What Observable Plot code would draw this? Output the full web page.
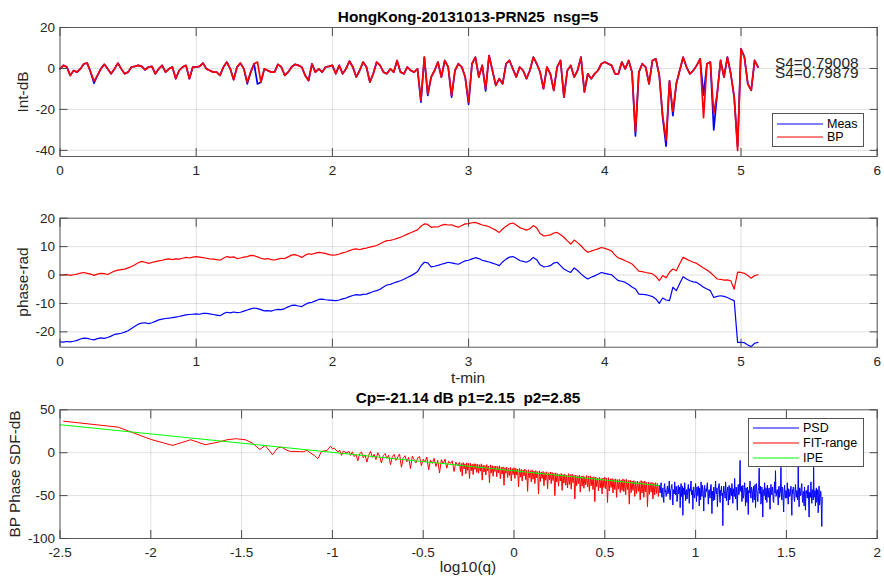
<!DOCTYPE html>
<html>
<head>
<meta charset="utf-8">
<script src="https://cdn.jsdelivr.net/npm/d3@7"></script>
<script src="https://cdn.jsdelivr.net/npm/@observablehq/plot@0.6"></script>
<style>
  body { margin: 0; background: #fff; }
  #fig { position: relative; width: 884px; height: 582px; overflow: hidden;
         font-family: "Liberation Sans", Arial, Helvetica, sans-serif; color: #262626; background: #fff; }
  .t { position: absolute; white-space: pre; line-height: 1; }
  .ttl { font-weight: bold; font-size: 15.4px; color: #000; transform: translateX(-50%); }
  .lab { font-size: 15.4px; transform: translateX(-50%); }
  .ylab { font-size: 15.4px; transform: translate(-50%, -50%) rotate(-90deg); }
  .leg { position: absolute; border: 1px solid #555; background: #fff; box-sizing: border-box; }
  .legtxt { position: absolute; font-size: 12.5px; line-height: 1; white-space: pre; color: #000; }
</style>
</head>
<body>
<div id="fig"></div>
<script>
// ---------------- DATA ----------------
const figTitle = "HongKong-20131013-PRN25  nsg=5";
const sdfTitle = "Cp=-21.14 dB p1=2.15  p2=2.85";
const xLabelTime = "t-min";
const xLabelSdf = "log10(q)";
const yLabelInt = "Int-dB";
const yLabelPhase = "phase-rad";
const yLabelSdf = "BP Phase SDF-dB";
const s4Labels = ["S4=0.79008", "S4=0.79879"];
const legendInt = ["Meas", "BP"];
const legendSdf = ["PSD", "FIT-range", "IPE"];

const timeTicks = [0, 1, 2, 3, 4, 5, 6];
const intTicks = [-40, -20, 0, 20];
const phaseTicks = [-20, -10, 0, 10, 20];
const sdfXTicks = [-2.5, -2, -1.5, -1, -0.5, 0, 0.5, 1, 1.5, 2];
const sdfYTicks = [-100, -50, 0, 50];

// Intensity (dB), sampled every 0.025 min from t = 0
const intDt = 0.025;
const intBP = [
  -0.2,1.5,0.7,-3.4,-1,-1.8,-0.2,2.3,2.6,-1.8,
  -6.2,-3.4,-0.2,2,-0.2,-2.6,-0.2,2.6,-0.2,-2.6,
  -1.8,0.7,1,1.5,1,-0.7,0.7,1,-2.6,-0.2,
  1.5,-1.8,-0.2,0.7,-5,-1,0.7,1.5,-5,0.7,
  0.7,1,2.6,-0.2,-1,-1.8,-1.8,-3.4,0.7,3.1,
  -0.2,-5.5,0.7,2.6,-0.2,-6.7,-1.8,2.3,3.1,-6.7,
  -0.2,-1,-1.8,-1.8,2,0.7,-3.4,-1.8,0.7,2,
  1.5,0.7,-3.4,-5.9,2.3,-1.8,-0.2,-1.8,0.7,1,
  1.5,
  -2.6,1.5,-2.6,-0.2,3.6,0.7,-4.2,-1,3.1,0.7,
  -6.7,-2.6,3.1,1.5,-1.8,-2.6,-0.2,-1.8,3.9,-1.8,
  -2.6,0.7,-1,-1.8,-0.2,-15.6,5.5,-12.4,-4.2,-1,
  3.1,-4.2,3.9,0.7,-13.2,-1,2.3,0.7,-4.2,-16.4,
  2.3,5.5,-4.2,1.5,-9.9,6.3,-1,-8.3,-5,-7.5,
  2.3,3.9,-0.2,-4.2,0.7,-1,-5,-1,5.5,2.3,
  -1.8,-9.9,0.7,-2.6,-10.7,0.7,3.9,-14,-1,1.5,
  -4.2,-1,5.5,-11.5,-2.6,-5,-2.6,-1,2.3,3.1,
  2.3,1.5,-2.6,-2.6,3.1,-0.2,3.9,-1.8,-31,-1.8,
  2.3,0.7,-7.5,3.9,4.7,-3.4,-23,-35,-6,-21,
  -7.5,-1,5.5,0.7,-2.6,-1,1.5,4.7,-24,2.3,
  3.1,-22,-12.4,3.9,-4.2,5.5,-2.6,-14,-40,9.6,
  5.5,-7.5,-10.7,3.9,0.7
];
// Where the measured intensity differs visibly from BP: [t-min, dB]
const intMeasDiff = [
  [0.25,-7.2],[1.375,-7.5],[1.45,-7.6],[2.65,-16.5],[2.7,-13.2],[2.875,-14],
  [3.0,-17.5],[3.125,-11],[4.225,-33],[4.425,-24],[4.45,-38],[4.5,-23],
  [4.725,-13],[4.8,-30],[4.975,-38]
];

// Phase (rad), sampled every 0.025 min from t = 0
const phaseDt = 0.025;
const phaseBP = [
  0.1,0.0,0.2,-0.1,0.1,0.3,0.7,0.9,0.6,0.3,
  -0.1,0.3,0.6,0.5,0.2,0.8,1.4,1.7,1.9,2.1,
  2.5,3.0,3.6,4.3,4.8,4.5,4.1,4.4,4.7,5.0,
  5.2,5.5,5.7,5.4,5.7,5.6,5.9,6.2,6.0,6.3,
  6.5,6.3,6.1,5.9,5.7,5.6,5.4,5.2,5.9,6.5,
  6.2,6.4,5.8,6.0,6.3,6.5,6.9,6.8,6.4,5.9,
  5.6,5.8,5.4,5.3,5.6,5.9,5.8,6.4,7.0,7.2,
  6.8,6.2,7.0,7.5,7.3,7.7,8.0,7.8,7.6,7.2,
  7.0,7.1,7.4,7.8,8.1,8.6,9.0,9.2,8.9,9.3,
  9.5,9.8,10.1,10.4,11.0,11.6,12.1,12.2,12.5,12.9,
  13.3,13.8,14.4,14.9,15.4,15.9,17.2,18.0,17.8,16.8,
  17.0,16.9,17.5,17.8,17.6,17.7,17.2,16.8,17.4,18.0,
  18.1,18.4,18.5,18.1,17.6,17.4,17.0,16.4,15.8,15.0,
  16.2,17.2,18.0,18.3,17.6,16.7,16.3,15.8,16.3,17.4,
  16.6,14.6,13.8,13.9,14.1,14.8,15.0,14.2,13.3,12.0,
  10.9,12.3,11.4,10.3,9.0,8.0,8.4,8.8,9.2,9.7,
  9.4,9.0,8.4,7.0,6.0,5.6,5.0,4.5,3.9,2.6,
  1.4,1.2,0.9,0.7,0.4,-0.5,-2.0,-0.2,-1.0,1.0,
  2.1,1.5,4.0,6.2,5.6,5.0,4.5,4.1,3.3,2.5,
  1.8,0.9,-0.2,-1.4,-1.5,-1.8,-1.7,-2.0,-5.0,1.0,
  0.9,0.6,-0.2,-1.1,-0.2,0.1
];
const phaseMeas = [
  -23.5,-23.6,-23.4,-23.5,-23.3,-23.0,-22.5,-22.2,-22.3,-22.6,
  -22.8,-22.4,-22.1,-22.3,-22.0,-21.5,-20.9,-20.7,-20.5,-20.1,
  -19.6,-18.8,-18.0,-17.3,-16.9,-16.8,-17.1,-16.8,-16.3,-15.8,
  -15.5,-15.3,-15.2,-15.0,-14.8,-14.6,-14.3,-14.0,-13.9,-13.8,
  -13.7,-13.8,-13.5,-13.5,-13.7,-13.9,-14.1,-14.3,-13.6,-13.1,
  -13.3,-13.0,-13.2,-13.1,-12.7,-12.3,-11.9,-11.6,-11.8,-12.2,
  -12.6,-12.5,-12.7,-12.3,-12.1,-12.2,-11.8,-11.2,-10.7,-10.6,
  -10.9,-11.1,-10.4,-9.8,-9.6,-9.1,-8.6,-8.5,-8.7,-8.8,
  -8.9,-9.0,-8.8,-8.4,-8.1,-7.6,-7.2,-6.9,-7.1,-6.8,
  -6.7,-6.3,-5.8,-5.5,-5.0,-4.2,-3.5,-3.3,-2.8,-2.4,
  -2.0,-1.5,-0.9,-0.3,0.4,1.2,3.2,4.5,4.3,2.9,
  3.1,3.4,3.8,4.1,4.5,4.3,4.0,3.8,4.4,5.0,
  5.2,5.7,6.1,5.8,5.2,4.9,4.6,4.2,3.8,3.3,
  4.6,5.6,6.3,6.5,5.9,5.1,4.8,4.5,5.1,6.2,
  5.4,3.6,2.9,3.0,3.3,4.2,4.5,3.3,2.1,1.4,
  0.9,2.5,1.6,0.4,-0.6,-1.4,-0.8,-0.3,0.3,0.9,
  0.6,0.3,0.1,-1.0,-2.0,-2.2,-2.6,-3.3,-4.2,-4.9,
  -6.7,-6.8,-6.9,-7.2,-7.6,-8.4,-10.0,-8.1,-8.8,-9.0,
  -4.3,-5.5,-3.0,-0.6,-1.4,-2.0,-2.4,-2.6,-3.4,-4.3,
  -4.9,-5.5,-7.9,-7.5,-7.3,-7.5,-7.9,-8.5,-9.0,-23.7,
  -23.7,-23.8,-24.6,-25.2,-24.0,-23.7
];

// SDF: low-q part of FIT-range (explicit log10(q), dB)
const fitLowX = [-2.48,-2.18,-2.0,-1.88,-1.78,-1.70,-1.63,-1.58,-1.53,-1.48,-1.44,-1.40,-1.37,-1.33,-1.30,-1.28,-1.25,-1.23,-1.20,-1.18,-1.16,-1.14,-1.12,-1.10,-1.08,-1.06,-1.05,-1.03,-1.01,-1.00,-0.99,-0.97,-0.96,-0.95,-0.94,-0.92,-0.91];
const fitLowY = [36.7,29.8,15.5,8.5,15.1,9.3,12.3,15.1,16.3,15.1,11.2,3.8,8.5,-2.3,5.8,6.5,2.7,1.5,1.5,1.2,1.2,2.7,-0.4,-3.1,-7,1.5,1.9,2.5,7.7,4.6,5.4,0.7,3,-3.1,1.9,-0.4,1.9];
// FIT-range, log10(q) from -0.90 in steps of 0.01 (to -0.31)
const fitMidX0 = -0.9, fitMidStep = 0.01;
const fitMidY = [
  -3.1,1.0,-4.5,-2.0,-9.5,-1.2,0.8,-6.0,-2.5,-11.0,
  -3.0,1.5,-5.5,-2.0,-8.0,0.0,-4.0,-12.0,-3.5,-1.0,
  -6.5,-3.0,-14.0,-4.5,-2.0,-9.0,-5.0,-1.5,-17.0,-6.5,
  -3.5,-10.5,-5.5,-18.5,-4.0,-8.0,-12.0,-6.0,-4.5,-15.0,
  -7.5,-11.0,-5.0,-20.0,-8.5,-12.5,-6.5,-16.0,-9.0,-23.5,
  -8.0,-13.0,-7.5,-18.0,-10.0,-12.5,-9.5,-22.0,-11.0,-15.5
];
// FIT-range, log10(q) from -0.30 in steps of 0.005 (to 0.80)
const fitHiX0 = -0.3, fitHiStep = 0.005;
const fitHiY = [
  -11.0,-22.0,-12.5,-27.0,-11.5,-19.0,-13.0,-24.5,-11.8,-20.5,-12.5,-30.0,-12.0,-21.0,-13.5,-25.5,-12.8,-19.5,-13.0,-23.0,
  -13.5,-24.0,-14.0,-21.5,-13.0,-32.0,-14.5,-22.5,-15.0,-26.0,-13.8,-21.0,-15.5,-35.0,-14.2,-23.5,-15.0,-27.5,-15.8,-22.0,
  -15.5,-28.0,-16.0,-23.5,-15.2,-30.5,-17.0,-25.0,-16.5,-38.0,-17.5,-24.0,-16.8,-29.0,-18.0,-26.5,-17.2,-33.0,-18.5,-25.5,
  -17.5,-30.0,-18.2,-26.0,-19.0,-40.0,-18.5,-28.5,-19.5,-33.0,-20.0,-27.0,-19.2,-31.5,-20.5,-45.0,-19.8,-29.0,-21.0,-34.0,
  -20.0,-31.0,-21.5,-36.0,-20.8,-29.5,-22.0,-48.0,-21.2,-33.5,-22.5,-30.0,-21.8,-38.5,-23.0,-32.0,-22.2,-42.0,-23.5,-31.5,
  -22.5,-36.0,-23.0,-32.5,-24.0,-50.0,-23.5,-34.0,-24.5,-39.0,-25.0,-33.0,-24.2,-44.0,-25.5,-35.5,-25.0,-38.0,-26.0,-41.0,
  -24.5,-37.0,-25.5,-42.5,-25.0,-35.0,-26.5,-54.0,-26.0,-38.5,-27.0,-36.0,-26.2,-46.0,-27.5,-39.0,-27.0,-41.5,-28.0,-37.5,
  -26.5,-40.0,-27.5,-45.0,-27.0,-38.5,-28.5,-43.0,-28.0,-57.0,-28.5,-39.5,-29.5,-44.5,-28.8,-41.0,-30.0,-48.0,-29.5,-40.5,
  -28.5,-42.0,-29.5,-58.0,-29.0,-44.5,-30.5,-40.5,-30.0,-47.0,-31.0,-43.0,-30.5,-52.0,-31.5,-42.5,-31.0,-46.5,-32.0,-44.0,
  -30.5,-45.5,-31.5,-49.0,-31.0,-43.0,-32.5,-60.0,-32.0,-46.5,-33.0,-44.0,-32.5,-51.0,-33.5,-47.5,-33.0,-45.0,-34.0,-55.0,
  -32.5,-47.0,-33.5,-52.0,-33.0,-45.5,-34.5,-63.0,-34.0,-48.5,-35.0,-46.0,-34.5,-54.0,-35.5,-49.0,-35.0,-47.5,-36.0,-51.0,
  -38.0
];
// PSD beyond the fit range: log10(q) from 0.80 in steps of 0.0025
const psdX0 = 0.8, psdStep = 0.0025;
const psdY = [
  -38,-44,-47,-40,-35,-49,-52,-43,-41,-55,-58,-39,-36,-46,-44,-51,-50,-42,-39,-48,
  -46,-41,-33,-50,-55,-44,-42,-38,-37,-53,-61,-43,-45,-48,-34,-45,-49,-39,-40,-57,
  -53,-42,-38,-48,-44,-40,-64,-46,-36,-51,-47,-39,-73,-44,-41,-49,-35,-43,-56,-45,
  -43,-54,-50,-41,-37,-47,-59,-42,-45,-38,-33,-49,-48,-44,-66,-40,-40,-53,-52,-46,
  -36,-45,-57,-40,-44,-50,-39,-47,-62,-41,-47,-55,-34,-43,-51,-38,-42,-49,-68,-44,
  -38,-52,-49,-42,-45,-39,-35,-48,-60,-44,-43,-51,-53,-40,-37,-47,-71,-45,-46,-56,
  -40,-47,-55,-43,-33,-46,-48,-41,-63,-50,-42,-38,-36,-52,-58,-44,-45,-39,-50,-47,
  -85,-48,-39,-45,-47,-53,-34,-42,-56,-46,-44,-40,-61,-49,-38,-55,-52,-41,-43,-50,
  -36,-44,-59,-42,-46,-51,-30,-47,-54,-40,-41,-56,-67,-43,-37,-49,-48,-35,-9,-45,
  -44,-39,-57,-48,-38,-53,-50,-43,-35,-46,-62,-41,-45,-58,-40,-49,-72,-44,-47,-38,
  -33,-49,-53,-40,-42,-47,-58,-45,-39,-55,-46,-37,-64,-48,-36,-43,-51,-57,-44,-41,
  -18,-46,-48,-39,-60,-52,-40,-45,-75,-44,-43,-50,-35,-47,-55,-41,-47,-58,-38,-49,
  -52,-43,-41,-54,-66,-46,-37,-48,-49,-40,-45,-56,-58,-42,-34,-47,-21,-51,-50,-44,
  -43,-49,-61,-41,-39,-52,-47,-45,-17,-48,-55,-40,-42,-57,-69,-46,-38,-50,-53,-44,
  -46,-53,-35,-47,-60,-42,-44,-51,-50,-45,-39,-58,-73,-43,-48,-40,-41,-54,-57,-46,
  -37,-48,-52,-44,-45,-55,-16,-47,-63,-41,-42,-50,-49,-39,-36,-53,-58,-45,-47,-62,
  -40,-51,-67,-45,-44,-49,-53,-42,-38,-56,-75,-47,-46,-52,-34,-48,-59,-44,-43,-55,
  -17,-52,-50,-44,-62,-47,-41,-58,-48,-43,-70,-50,-39,-61,-56,-45,-45,-66,-86,-53,
  -52
];
// IPE straight-line fit end points
const ipeX = [-2.5, 0.8];
const ipeY = [32.6, -38.3];

// ---------------- BUILD ROWS ----------------
const measMap = new Map(intMeasDiff.map(([t, v]) => [Math.round(t / intDt), v]));
const intRows = intBP.map((v, i) => ({t: i * intDt, bp: v, meas: measMap.has(i) ? measMap.get(i) : v}));
const phaseRows = phaseBP.map((v, i) => ({t: i * phaseDt, bp: v, meas: phaseMeas[i]}));
const fitRows = fitLowX.map((x, i) => ({x, y: fitLowY[i]}))
  .concat(fitMidY.map((y, i) => ({x: fitMidX0 + i * fitMidStep, y})))
  .concat(fitHiY.map((y, i) => ({x: fitHiX0 + i * fitHiStep, y})));
const psdRows = psdY.map((y, i) => ({x: psdX0 + i * psdStep, y}));
const ipeRows = ipeX.map((x, i) => ({x, y: ipeY[i]}));

// ---------------- DRAW ----------------
const fig = document.getElementById("fig");
const FONT = '"Liberation Sans", Arial, Helvetica, sans-serif';
const fmt = d => String(d);
const BLUE = "#0000ff", RED = "#ff0000", GREEN = "#00ff00";
const style = {fontFamily: FONT, fontSize: "13.5px", color: "#262626", background: "transparent", overflow: "visible"};

function grid(xt, yt) {
  return [
    Plot.gridX(xt, {stroke: "#000", strokeOpacity: 0.12}),
    Plot.gridY(yt, {stroke: "#000", strokeOpacity: 0.12})
  ];
}
function box(xt, yt) {
  return [
    Plot.frame({stroke: "#5a5a5a"}),
    Plot.axisX(xt, {anchor: "bottom", tickSize: -8, tickPadding: 17, tickFormat: fmt, label: null, stroke: "#4a4a4a", fill: "#262626"}),
    Plot.axisX(xt, {anchor: "top", tickSize: -8, tickFormat: () => "", label: null, stroke: "#4a4a4a"}),
    Plot.axisY(yt, {anchor: "left", tickSize: -8, tickPadding: 13, tickFormat: fmt, label: null, stroke: "#4a4a4a", fill: "#262626"}),
    Plot.axisY(yt, {anchor: "right", tickSize: -8, tickFormat: () => "", label: null, stroke: "#4a4a4a"})
  ];
}
function place(svg, top) {
  svg.style.position = "absolute";
  svg.style.left = "0px";
  svg.style.top = top + "px";
  fig.appendChild(svg);
}

const p1 = Plot.plot({
  width: 884, height: 180, marginTop: 27, marginBottom: 24, marginLeft: 59.5, marginRight: 7.3,
  style,
  x: {domain: [0, 6], label: null},
  y: {domain: [-43, 20], label: null},
  marks: [
    ...grid(timeTicks, intTicks),
    Plot.line(intRows, {x: "t", y: "meas", stroke: BLUE, strokeWidth: 1.7}),
    Plot.line(intRows, {x: "t", y: "bp", stroke: RED, strokeWidth: 1.7}),
    Plot.text(s4Labels, {x: 5.25, y: (d, i) => [2.6, -2.4][i], text: d => d, textAnchor: "start",
      lineAnchor: "middle", fontSize: 15.4, fill: "#262626"}),
    ...box(timeTicks, intTicks)
  ]
});
place(p1, 0);

const p2 = Plot.plot({
  width: 884, height: 190, marginTop: 27.7, marginBottom: 33.3, marginLeft: 59.5, marginRight: 7.3,
  style,
  x: {domain: [0, 6], label: null},
  y: {domain: [-25.4, 20], label: null},
  marks: [
    ...grid(timeTicks, phaseTicks),
    Plot.line(phaseRows, {x: "t", y: "bp", stroke: RED, strokeWidth: 1.2}),
    Plot.line(phaseRows, {x: "t", y: "meas", stroke: BLUE, strokeWidth: 1.2}),
    ...box(timeTicks, phaseTicks)
  ]
});
place(p2, 190);

const p3 = Plot.plot({
  width: 884, height: 202, marginTop: 29.3, marginBottom: 44, marginLeft: 59.5, marginRight: 7.3,
  style,
  x: {domain: [-2.5, 2], label: null},
  y: {domain: [-100, 50], label: null},
  marks: [
    ...grid(sdfXTicks, sdfYTicks),
    Plot.line(psdRows, {x: "x", y: "y", stroke: BLUE, strokeWidth: 1}),
    Plot.line(fitRows, {x: "x", y: "y", stroke: RED, strokeWidth: 1}),
    Plot.line(ipeRows, {x: "x", y: "y", stroke: GREEN, strokeWidth: 1}),
    ...box(sdfXTicks, sdfYTicks)
  ]
});
place(p3, 380);

// ---------------- TEXT ----------------
function addText(cls, txt, left, top) {
  const d = document.createElement("div");
  d.className = "t " + cls;
  d.textContent = txt;
  d.style.left = left + "px";
  d.style.top = top + "px";
  fig.appendChild(d);
  return d;
}
addText("ttl", figTitle, 468, 9);
addText("lab", xLabelTime, 468, 369.5);
addText("ttl", sdfTitle, 468, 390.3);
addText("lab", xLabelSdf, 468, 558.5);
addText("ylab", yLabelInt, 22.7, 91.5);
addText("ylab", yLabelPhase, 22.7, 282.2);
addText("ylab", yLabelSdf, 14.7, 473.7);

function legend(names, colors, left, top, width, height, rows) {
  const b = document.createElement("div");
  b.className = "leg";
  Object.assign(b.style, {left: left + "px", top: top + "px", width: width + "px", height: height + "px"});
  names.forEach((n, i) => {
    const s = document.createElementNS("http://www.w3.org/2000/svg", "svg");
    s.setAttribute("width", "48"); s.setAttribute("height", "4");
    Object.assign(s.style, {position: "absolute", left: "4px", top: (rows[i] - 2) + "px"});
    const l = document.createElementNS("http://www.w3.org/2000/svg", "line");
    l.setAttribute("x1", "0"); l.setAttribute("x2", "46"); l.setAttribute("y1", "2"); l.setAttribute("y2", "2");
    l.setAttribute("stroke", colors[i]); l.setAttribute("stroke-width", "1");
    s.appendChild(l);
    b.appendChild(s);
    const t = document.createElement("div");
    t.className = "legtxt";
    t.textContent = n;
    t.style.left = "54px";
    t.style.top = (rows[i] - 6.2) + "px";
    b.appendChild(t);
  });
  fig.appendChild(b);
}
legend(legendInt, [BLUE, RED], 772, 113, 92, 34, [9.8, 23.2]);
legend(legendSdf, [BLUE, RED, GREEN], 748, 418, 116, 49, [9.2, 23.8, 39.2]);
</script>
</body>
</html>
